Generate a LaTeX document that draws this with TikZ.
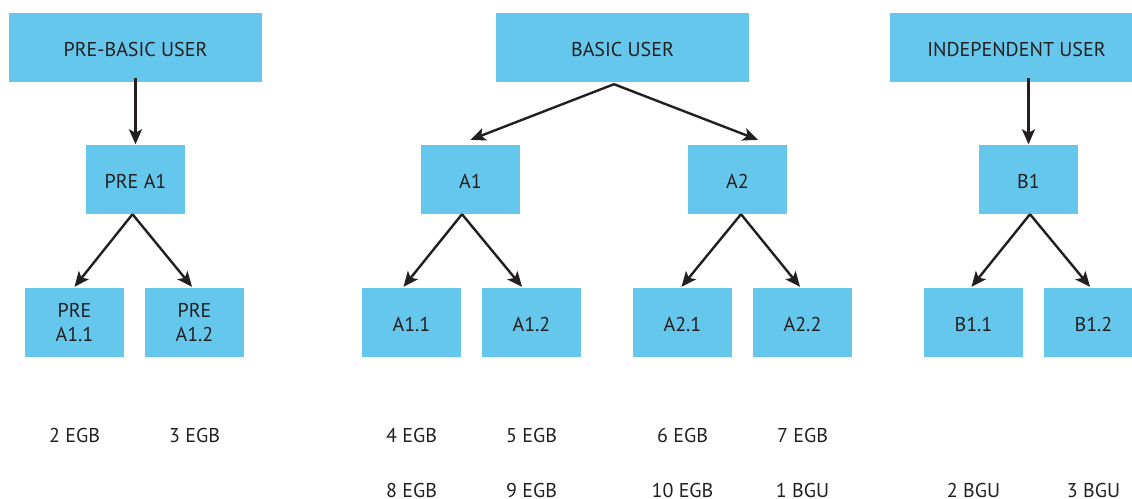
\documentclass[tikz,border=0pt]{standalone}
\usepackage{fontspec}
\setmainfont{PT Sans}
\usetikzlibrary{arrows.meta}
\definecolor{boxblue}{RGB}{102,199,236}
\definecolor{ink}{RGB}{35,31,32}
\begin{document}
\begin{tikzpicture}[x=1pt,y=-1pt,
  every node/.style={text=ink,font=\fontsize{20}{23.5}\selectfont,inner sep=0pt,align=center},
  oneline/.style={text height=18.4pt,text depth=0pt},
  bigbox/.style={oneline,fill=boxblue,minimum width=253pt,minimum height=69pt},
  smallbox/.style={oneline,fill=boxblue,minimum width=99pt,minimum height=69pt},
  twobox/.style={fill=boxblue,minimum width=99pt,minimum height=69pt},
  lbl/.style={oneline},
  conn/.style={draw=ink,line width=2.4pt,-{Stealth[length=15pt,width=13pt,inset=3.5pt]}}]
\clip (0,0) rectangle (1132,498);
% top level
\node[bigbox] (pbu) at (135.5,47.5) {PRE-BASIC USER};
\node[bigbox] (bu) at (622.5,47.5) {BASIC USER};
\node[bigbox] (iu) at (1016.5,47.5) {INDEPENDENT USER};
% second level
\node[smallbox] (pa1) at (135.5,179.5) {PRE A1};
\node[smallbox] (a1) at (470.5,179.5) {A1};
\node[smallbox] (a2) at (737.5,179.5) {A2};
\node[smallbox] (b1) at (1028.5,179.5) {B1};
% third level
\node[twobox] (pa11) at (74.5,322.5) {PRE\\A1.1};
\node[twobox] (pa12) at (194.5,322.5) {PRE\\A1.2};
\node[smallbox] (a11) at (411.5,322.5) {A1.1};
\node[smallbox] (a12) at (531.5,322.5) {A1.2};
\node[smallbox] (a21) at (682.5,322.5) {A2.1};
\node[smallbox] (a22) at (802.5,322.5) {A2.2};
\node[smallbox] (b11) at (973.5,322.5) {B1.1};
\node[smallbox] (b12) at (1093.5,322.5) {B1.2};
% labels
\node[lbl] (l1) at (74.5,433.5) {2 EGB};
\node[lbl] (l2) at (194.5,433.5) {3 EGB};
\node[lbl] (l3) at (411.5,433.5) {4 EGB};
\node[lbl] (l4) at (531.5,433.5) {5 EGB};
\node[lbl] (l5) at (682.5,433.5) {6 EGB};
\node[lbl] (l6) at (802.5,433.5) {7 EGB};
\node[lbl] (l7) at (411.5,488) {8 EGB};
\node[lbl] (l8) at (531.5,488) {9 EGB};
\node[lbl] (l9) at (682.5,488) {10 EGB};
\node[lbl] (l10) at (802.5,488) {1 BGU};
\node[lbl] (l11) at (973.5,488) {2 BGU};
\node[lbl] (l12) at (1093.5,488) {3 BGU};
% connectors
\draw[conn] ([yshift=4pt]pbu.south) -- ([yshift=0.5pt]pa1.north);
\draw[conn] ([yshift=4pt]iu.south -| b1.north) -- ([yshift=0.5pt]b1.north);
\draw[conn] ([xshift=-8.5pt,yshift=-2pt]bu.south) -- ([yshift=5pt]a1.north);
\draw[conn] ([xshift=-8.5pt,yshift=-2pt]bu.south) -- ([xshift=20.5pt,yshift=5pt]a2.north);
\draw[conn] ([xshift=-3pt]pa1.south) -- ([yshift=1pt]pa11.north);
\draw[conn] ([xshift=-3pt]pa1.south) -- ([xshift=-2.5pt,yshift=1pt]pa12.north);
\draw[conn] ([xshift=-8.5pt]a1.south) -- ([xshift=-8pt,yshift=1pt]a11.north);
\draw[conn] ([xshift=-8.5pt]a1.south) -- ([xshift=-9.5pt,yshift=1pt]a12.north);
\draw[conn] ([xshift=3.5pt]a2.south) -- ([xshift=-1pt,yshift=1pt]a21.north);
\draw[conn] ([xshift=3.5pt]a2.south) -- ([xshift=-2.5pt,yshift=1pt]a22.north);
\draw[conn] ([xshift=1.5pt]b1.south) -- ([xshift=-2pt,yshift=1pt]b11.north);
\draw[conn] ([xshift=1.5pt]b1.south) -- ([xshift=-3.5pt,yshift=1pt]b12.north);
\end{tikzpicture}
\end{document}
